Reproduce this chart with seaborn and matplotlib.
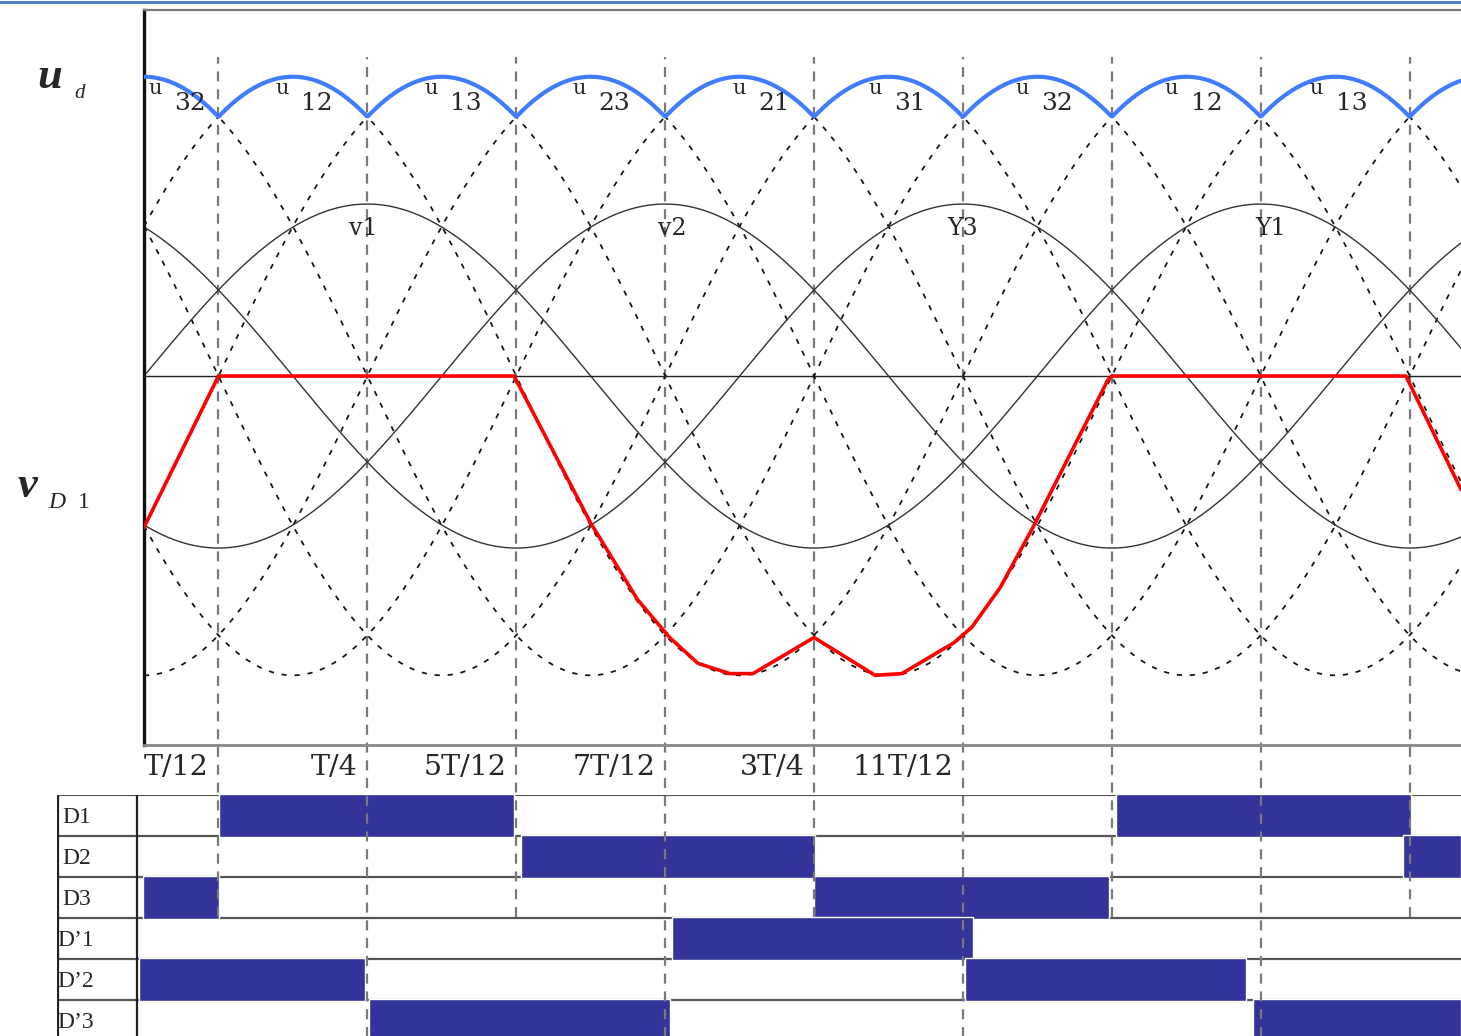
import matplotlib.pyplot as plt
import numpy as np
import pandas as pd
import seaborn as sns
from matplotlib.lines import Line2D

# time in units of T/12, voltage in units of the phase amplitude
t_end = 17.69
long_grid_times = [3, 7, 11, 15]
short_grid_times = [1, 5, 9, 13, 17]

phase_peaks = [3, 7, 11]
phase_amp = 1.0
phase_labels = ["v1", "v2", "Y3", "Y1"]
phase_label_t = [2.94, 7.09, 11.0, 15.13]

line_peaks = [0, 2, 4, 6, 8, 10]
line_amp = 1.74
line_labels = ["32", "12", "13", "23", "21", "31", "32", "12", "13"]
line_label_t = [0.35, 2.05, 4.05, 6.05, 8.2, 10.02, 12.0, 14.0, 15.95]

vd1_t = [0.0, 1.0, 4.97, 6.0, 6.63, 7.06, 7.44, 7.87, 8.18, 9.0, 9.82,
         10.18, 10.88, 11.12, 11.5, 11.94, 12.95, 13.0, 16.95, 17.69]
vd1_v = [-0.88, 0.0, 0.0, -0.855, -1.30, -1.52, -1.67, -1.73, -1.73, -1.52,
         -1.74, -1.73, -1.55, -1.46, -1.23, -0.88, -0.02, 0.0, 0.0, -0.66]

tick_labels = ["T/12", "T/4", "5T/12", "7T/12", "3T/4", "11T/12"]
tick_t = [1, 3, 5, 7, 9, 11]

rows = ["D1", "D2", "D3", "D’1", "D’2", "D’3"]
bar_rows = [0, 0, 1, 1, 2, 2, 3, 4, 4, 5, 5]
bar_start = [1.0, 13.05, 5.06, 16.91, -0.02, 9.0, 7.09, -0.07, 11.03, 3.02, 14.9]
bar_end = [4.97, 17.02, 9.01, 17.69, 1.0, 12.96, 11.13, 2.96, 14.8, 7.06, 17.69]

W, H = 1461, 1036

sns.set_style("white")
plt.rcParams["font.family"] = ["DejaVu Serif"]


def px(x, y):
    return x / W, 1 - y / H


t = np.linspace(0, t_end, 900)


def wave(peak, amp):
    return amp * np.cos(2 * np.pi * (t - peak) / 12)


phase_df = pd.concat(
    [pd.DataFrame({"t": t, "v": wave(p, phase_amp), "curve": f"v{i + 1}"})
     for i, p in enumerate(phase_peaks)]
)
line_df = pd.concat(
    [pd.DataFrame({"t": t, "v": wave(p, line_amp), "curve": f"u{i}"})
     for i, p in enumerate(line_peaks)]
)
ud_df = line_df.groupby("t", as_index=False)["v"].max()
vd1_df = pd.DataFrame({"t": vd1_t, "v": vd1_v})

fig = plt.figure(figsize=(W / 100, H / 100), dpi=100)

# ---- switching table ----
ax_tab = fig.add_axes([57 / W, 0, (W - 57) / W, (H - 795) / H])
ax_tab.set_zorder(1)
ax_tab.set_xlim(-1.177, t_end)
ax_tab.set_ylim((H - 795) / 41, 0)
ax_tab.axis("off")
ax_tab.hlines(range(6), -1.177, t_end, color="#555555", lw=1.6, zorder=1)
ax_tab.vlines([-1.165, -0.10], 0, 6, color="#222222", lw=1.6, zorder=1)
ax_tab.barh(
    [r + 0.5 for r in bar_rows],
    [e - s for s, e in zip(bar_start, bar_end)],
    left=bar_start, height=1.04, color="#333399", zorder=2,
)
for i, name in enumerate(rows):
    x0 = -1.11 if "’" not in name else -1.177
    ax_tab.text(x0, i + 0.55, name, fontsize=17, va="center", ha="left",
                family="Liberation Serif")

# ---- waveforms ----
ax = fig.add_axes([144 / W, 1 - 745 / H, (W - 144) / W, (745 - 10) / H])
ax.set_zorder(3)
ax.patch.set_visible(False)
ax.set_xlim(0, t_end)
ax.set_ylim(-2.145, 2.128)
ax.set_xticks([])
ax.set_yticks([])
ax.spines["right"].set_visible(False)
ax.spines["left"].set_color("#111111")
ax.spines["left"].set_linewidth(2.4)
ax.spines["top"].set_color("#777777")
ax.spines["top"].set_linewidth(1.6)
ax.spines["bottom"].set_color("#888888")
ax.spines["bottom"].set_linewidth(2.0)

ax.vlines(long_grid_times, -3.84, 1.855, color="#7a7a7a", lw=1.6,
          linestyle=(0, (4.5, 3.5)), clip_on=False, zorder=1)
ax.vlines(short_grid_times, -3.145, 1.855, color="#7a7a7a", lw=1.6,
          linestyle=(0, (4.5, 3.5)), clip_on=False, zorder=1)

sns.lineplot(data=line_df, x="t", y="v", units="curve", estimator=None,
             color="#111111", lw=1.25, linestyle=(0, (3, 4.5)), ax=ax,
             legend=False, zorder=2)
sns.lineplot(data=phase_df, x="t", y="v", units="curve", estimator=None,
             color="#333333", lw=1.0, ax=ax, legend=False, zorder=2)
ax.axhline(0, color="#222222", lw=1.0, zorder=2)
sns.lineplot(data=vd1_df, x="t", y="v", estimator=None, sort=False,
             color="#ff0000", lw=2.6, ax=ax, legend=False, zorder=4)
sns.lineplot(data=ud_df, x="t", y="v", estimator=None,
             color="#3f7cff", lw=3.0, ax=ax, legend=False, zorder=5)
ax.set_xlabel("")
ax.set_ylabel("")

for tc, lab in zip(line_label_t, line_labels):
    ax.text(tc - 0.2, 1.67, "u", fontsize=15, ha="center", va="center", zorder=6)
    ax.text(tc + 0.27, 1.585, lab, fontsize=18, ha="center", va="center", zorder=6)

for tc, lab in zip(phase_label_t, phase_labels):
    ax.text(tc, 0.86, lab, fontsize=17, ha="center", va="center", zorder=6)

for tc, lab in zip(tick_t, tick_labels):
    ax.text(tc - 0.13, -2.273, lab, fontsize=20.5, ha="right", va="center",
            clip_on=False)

# ---- side labels ----
fig.text(*px(37, 77), "u", fontsize=32, style="italic", weight="bold",
         family="Liberation Serif", va="center", ha="left")
fig.text(*px(74, 94), "d", fontsize=15, style="italic",
         family="Liberation Serif", va="center", ha="left")
fig.text(*px(18, 486), "v", fontsize=32, style="italic", weight="bold",
         family="Liberation Serif", va="center", ha="left")
fig.text(*px(48, 503), "D", fontsize=17, style="italic",
         family="Liberation Serif", va="center", ha="left")
fig.text(*px(78, 503), "1", fontsize=17,
         family="Liberation Serif", va="center", ha="left")

fig.add_artist(Line2D([0, 1], [1 - 1.5 / H] * 2, color="#4f81bd", lw=2.2,
                      transform=fig.transFigure))

fig.savefig("out.png", dpi=100)
